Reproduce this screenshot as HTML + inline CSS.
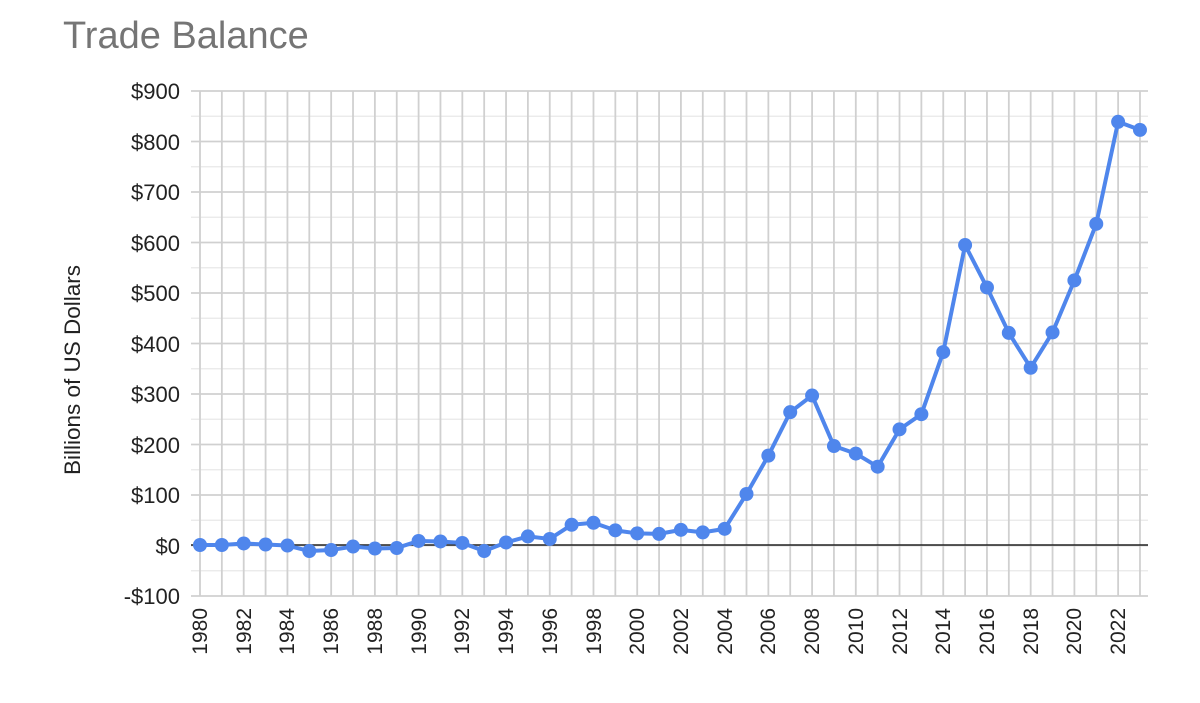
<!DOCTYPE html>
<html><head><meta charset="utf-8"><style>
body{margin:0;background:#fff;width:1200px;height:698px;overflow:hidden}
text{font-family:"Liberation Sans",Arial,sans-serif}
</style></head><body>
<svg width="1200" height="698" xmlns="http://www.w3.org/2000/svg">
<text x="63" y="48" font-size="38" fill="#757575">Trade Balance</text>
<g id="grid"></g>
<g font-size="22" fill="#222" text-anchor="end">
<text x="180" y="99">$900</text><text x="180" y="150">$800</text><text x="180" y="200">$700</text>
<text x="180" y="251">$600</text><text x="180" y="301">$500</text><text x="180" y="352">$400</text>
<text x="180" y="402">$300</text><text x="180" y="453">$200</text><text x="180" y="503">$100</text>
<text x="180" y="554">$0</text><text x="180" y="604">-$100</text>
</g>
<text transform="translate(80,370) rotate(-90)" font-size="22.5" fill="#222" text-anchor="middle">Billions of US Dollars</text>
<g font-size="21" fill="#222" text-anchor="end">
<text transform="translate(207,608) rotate(-90)">1980</text>
<text transform="translate(251,608) rotate(-90)">1982</text>
<text transform="translate(294,608) rotate(-90)">1984</text>
<text transform="translate(338,608) rotate(-90)">1986</text>
<text transform="translate(382,608) rotate(-90)">1988</text>
<text transform="translate(426,608) rotate(-90)">1990</text>
<text transform="translate(469,608) rotate(-90)">1992</text>
<text transform="translate(513,608) rotate(-90)">1994</text>
<text transform="translate(557,608) rotate(-90)">1996</text>
<text transform="translate(601,608) rotate(-90)">1998</text>
<text transform="translate(644,608) rotate(-90)">2000</text>
<text transform="translate(688,608) rotate(-90)">2002</text>
<text transform="translate(732,608) rotate(-90)">2004</text>
<text transform="translate(775,608) rotate(-90)">2006</text>
<text transform="translate(819,608) rotate(-90)">2008</text>
<text transform="translate(863,608) rotate(-90)">2010</text>
<text transform="translate(907,608) rotate(-90)">2012</text>
<text transform="translate(950,608) rotate(-90)">2014</text>
<text transform="translate(994,608) rotate(-90)">2016</text>
<text transform="translate(1038,608) rotate(-90)">2018</text>
<text transform="translate(1081,608) rotate(-90)">2020</text>
<text transform="translate(1125,608) rotate(-90)">2022</text>
</g>
<g id="series"></g>
</svg>
<script>
var ns="http://www.w3.org/2000/svg";
var g=document.getElementById("grid"),s=document.getElementById("series");
function el(p,t,a){var e=document.createElementNS(ns,t);for(var k in a)e.setAttribute(k,a[k]);p.appendChild(e);return e;}
for(var i=0;i<=20;i++){var y=91+i*25.25;el(g,"line",{x1:191,x2:1148,y1:y,y2:y,stroke:i%2?"#e8e8e8":"#d0d0d0","stroke-width":i%2?1.2:1.8});}
for(var i=0;i<44;i++){var x=200+i*21.86;el(g,"line",{x1:x,x2:x,y1:91,y2:596,stroke:"#d0d0d0","stroke-width":1.8});}
el(g,"line",{x1:191,x2:1148,y1:545,y2:545,stroke:"#222","stroke-width":1.5});
var v=[0,0,3,1,-1,-12,-10,-3,-7,-6,8,7,4,-12,5,17,12,40,44,29,23,22,30,25,32,101,177,263,296,196,181,155,229,259,382,594,510,420,351,421,524,636,838,822];
var pts=v.map(function(d,i){return [200+i*21.86,545-d*0.505];});
el(s,"polyline",{points:pts.map(function(p){return p.join(",")}).join(" "),fill:"none",stroke:"#4f86ec","stroke-width":4,"stroke-linejoin":"round"});
pts.forEach(function(p){el(s,"circle",{cx:p[0],cy:p[1],r:7,fill:"#4f86ec"});});
</script>
</body></html>
